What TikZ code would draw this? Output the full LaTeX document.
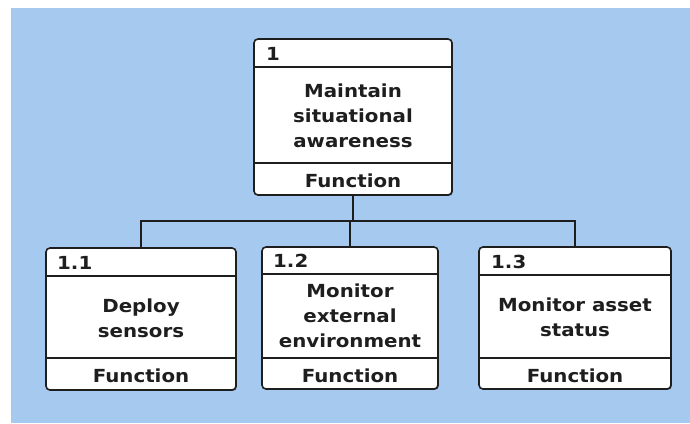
\documentclass[tikz,border=0pt]{standalone}
\usepackage{fontspec}
\setmainfont{DejaVu Sans}[FakeStretch=1.1]
\definecolor{bgblue}{HTML}{A6C9EF}
\definecolor{ink}{HTML}{1E1E1E}
\usetikzlibrary{shadows}
\tikzset{
  fbox/.style={draw=ink, line width=1.6pt, fill=white, rounded corners=4pt, inner sep=0pt,
    drop shadow={shadow xshift=0.8pt, shadow yshift=-0.8pt, fill=ink, opacity=0.7}},
  divline/.style={draw=ink, line width=1.3pt},
  conn/.style={draw=ink, line width=1.6pt},
  txt/.style={font=\bfseries\fontsize{18}{25}\selectfont, text=ink, inner sep=0pt, align=center},
}
\begin{document}
\begin{tikzpicture}[x=1pt,y=-1pt]
\useasboundingbox (0,0) rectangle (690,423);
\fill[bgblue] (11,8) rectangle (690,423);
% boxes
\node[fbox, minimum width=198pt, minimum height=156pt] (n1) at (353,117) {};
\node[fbox, minimum width=190pt, minimum height=142pt] (n11) at (141,319) {};
\node[fbox, minimum width=176pt, minimum height=142pt] (n12) at (350,318) {};
\node[fbox, minimum width=192pt, minimum height=142pt] (n13) at (575,318) {};
% dividers
\draw[divline] (n1.west |- 0,67) -- (n1.east |- 0,67);
\draw[divline] (n1.west |- 0,163) -- (n1.east |- 0,163);
\draw[divline] (n11.west |- 0,276) -- (n11.east |- 0,276);
\draw[divline] (n11.west |- 0,358) -- (n11.east |- 0,358);
\draw[divline] (n12.west |- 0,274) -- (n12.east |- 0,274);
\draw[divline] (n12.west |- 0,358) -- (n12.east |- 0,358);
\draw[divline] (n13.west |- 0,275) -- (n13.east |- 0,275);
\draw[divline] (n13.west |- 0,358) -- (n13.east |- 0,358);
% header labels
\node[txt, anchor=base west] (l1) at (266,60) {1};
\node[txt, anchor=base west] (l11) at (57,269) {1.1};
\node[txt, anchor=base west] (l12) at (273,267) {1.2};
\node[txt, anchor=base west] (l13) at (491,268) {1.3};
% body texts
\node[txt] (b1) at (353,116) {Maintain\\situational\\awareness};
\node[txt] (b11) at (141,318) {Deploy\\sensors};
\node[txt] (b12) at (350,316) {Monitor\\external\\environment};
\node[txt] (b13) at (575,317) {Monitor asset\\status};
% footers
\node[txt, anchor=base] (f1) at (353,187) {Function};
\node[txt, anchor=base] (f11) at (141,382) {Function};
\node[txt, anchor=base] (f12) at (350,382) {Function};
\node[txt, anchor=base] (f13) at (575,382) {Function};
% connectors
\coordinate (bus) at (353,221);
\draw[conn] (n1.south) -- (bus);
\draw[conn] (bus) -| (n11.north);
\draw[conn] (bus) -| (n13.north);
\draw[conn] (n12.north) -- (n12.north |- bus);
\end{tikzpicture}
\end{document}
